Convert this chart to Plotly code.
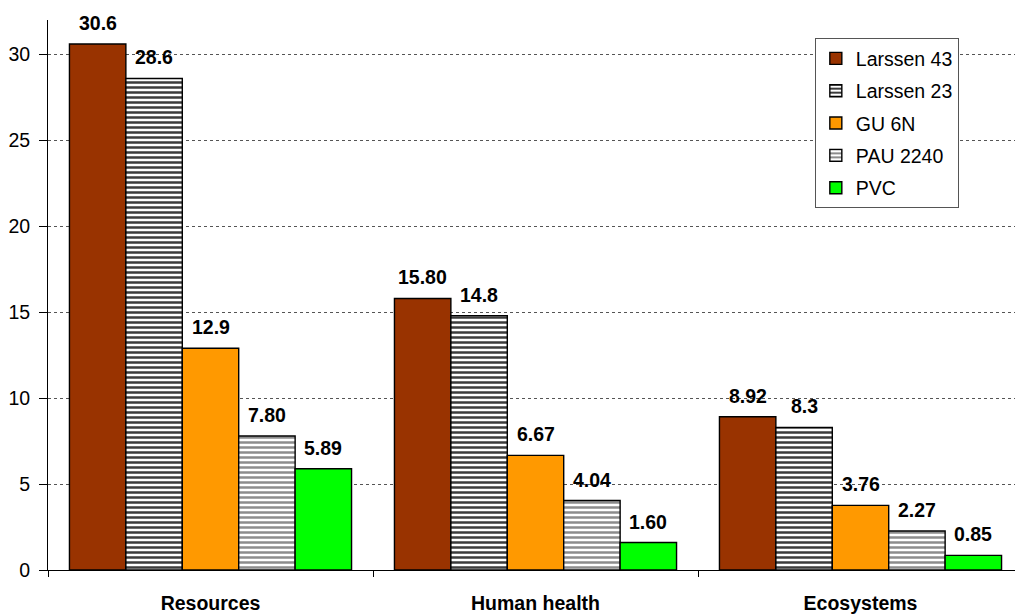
import plotly.graph_objects as go

# Impact categories and product series
categories = ["Resources", "Human health", "Ecosystems"]
series_names = ["Larssen 43", "Larssen 23", "GU 6N", "PAU 2240", "PVC"]
larssen_43 = [30.6, 15.80, 8.92]
larssen_23 = [28.6, 14.8, 8.3]
gu_6n = [12.9, 6.67, 3.76]
pau_2240 = [7.80, 4.04, 2.27]
pvc = [5.89, 1.60, 0.85]
label_text = [
    ["30.6", "15.80", "8.92"],
    ["28.6", "14.8", "8.3"],
    ["12.9", "6.67", "3.76"],
    ["7.80", "4.04", "2.27"],
    ["5.89", "1.60", "0.85"],
]
y_ticks = [0, 5, 10, 15, 20, 25, 30]

values = [larssen_43, larssen_23, gu_6n, pau_2240, pvc]
styles = [
    dict(color="#993300"),
    dict(color="white", pattern=dict(shape="-", fgcolor="#3c3c3c", bgcolor="white",
                                     size=5, solidity=0.5, fillmode="replace")),
    dict(color="#FF9900"),
    dict(color="white", pattern=dict(shape="-", fgcolor="#8c8c8c", bgcolor="white",
                                     size=5, solidity=0.5, fillmode="replace")),
    dict(color="#00FF00"),
]

FONT = "Liberation Sans, Arial, sans-serif"
BARGAP = 0.132
n = len(series_names)
bar_w = (1 - BARGAP) / n
xs = list(range(len(categories)))

fig = go.Figure()
for j, (name, vals, st) in enumerate(zip(series_names, values, styles)):
    fig.add_trace(go.Bar(
        x=xs, y=vals, name=name, legendgroup=name,
        marker=dict(**st, line=dict(color="black", width=1.4)),
    ))
    for i, v in enumerate(vals):
        fig.add_annotation(
            x=i + (j - (n - 1) / 2) * bar_w, y=v, text=label_text[j][i],
            showarrow=False, yanchor="bottom", yshift=8,
            font=dict(family=FONT, size=19.5, color="black", weight="bold"),
        )

fig.update_layout(
    width=1015, height=614,
    margin=dict(l=48, r=0, t=20, b=42),
    paper_bgcolor="white", plot_bgcolor="white",
    barmode="group", bargap=BARGAP, bargroupgap=0,
    font=dict(family=FONT, size=19, color="black"),
    showlegend=True,
    legend=dict(
        x=0.793, y=0.967, xanchor="left", yanchor="top",
        bgcolor="white", bordercolor="#555555", borderwidth=1,
        font=dict(family=FONT, size=19.5, color="black"),
        tracegroupgap=4, traceorder="grouped",
        entrywidth=125, entrywidthmode="pixels",
    ),
)
fig.update_xaxes(
    range=[-0.5, 2.5 - 8 / 325],
    tickmode="array", tickvals=xs, ticktext=[f"<b>{c}</b>" for c in categories],
    ticks="", showline=True, linecolor="black", linewidth=1,
    showgrid=False, zeroline=False, ticklabelstandoff=16,
    tickfont=dict(family=FONT, size=19.5, color="black"),
    minor=dict(tick0=-0.5, dtick=1, ticks="outside", ticklen=6,
               tickcolor="black", tickwidth=1, showgrid=False),
)
fig.update_yaxes(
    range=[0, 32], tickmode="array", tickvals=y_ticks,
    ticks="outside", ticklen=8, tickcolor="black", ticklabelstandoff=5,
    showline=True, linecolor="black", linewidth=1,
    showgrid=True, gridcolor="#555555", griddash="dot", gridwidth=1,
    zeroline=False,
    tickfont=dict(family=FONT, size=19.5, color="black"),
)

fig.write_html("out.html")
